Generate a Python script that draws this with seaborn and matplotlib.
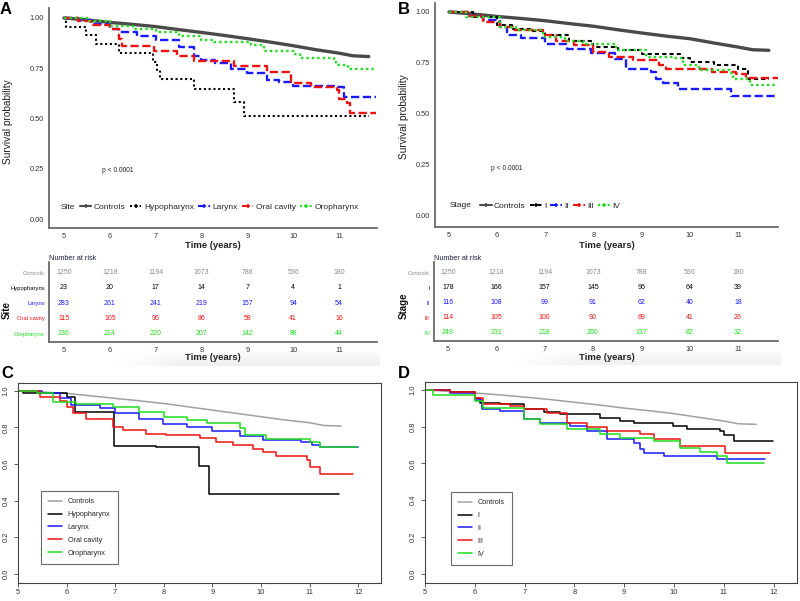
import numpy as np
import pandas as pd
import matplotlib
matplotlib.use('Agg')
import matplotlib.pyplot as plt
from matplotlib.lines import Line2D
import seaborn as sns

# ---------------- data ----------------
RISK_TIMES = [5, 6, 7, 8, 9, 10, 11]
SITE_GROUPS = ['Controls', 'Hypopharynx', 'Larynx', 'Oral cavity', 'Oropharynx']
STAGE_GROUPS = ['Controls', 'I', 'II', 'III', 'IV']

risk_controls = [1250, 1218, 1194, 1073, 788, 536, 180]
risk_hypopharynx = [23, 20, 17, 14, 7, 4, 1]
risk_larynx = [283, 261, 241, 219, 157, 94, 54]
risk_oral = [115, 105, 96, 86, 58, 41, 16]
risk_oropharynx = [236, 224, 220, 207, 142, 88, 44]
risk_stage1 = [178, 166, 157, 145, 96, 64, 39]
risk_stage2 = [116, 108, 99, 91, 62, 40, 18]
risk_stage3 = [114, 105, 100, 90, 69, 41, 26]
risk_stage4 = [249, 231, 218, 200, 137, 82, 32]

# panel A (site, ggsurvplot)
a_controls_t = [5, 5.5, 6, 6.5, 7, 7.5, 8, 8.5, 9, 9.5, 10, 10.5, 11, 11.3, 11.65]
a_controls_s = [1.0, 0.99, 0.978, 0.968, 0.957, 0.942, 0.928, 0.913, 0.897, 0.88, 0.862, 0.842, 0.825, 0.812, 0.808]
a_hypo_t = [5, 5.05, 5.47, 5.7, 6.19, 6.95, 7.02, 7.1, 7.83, 8.72, 8.92, 11.65]
a_hypo_s = [1.0, 0.957, 0.913, 0.87, 0.826, 0.783, 0.739, 0.696, 0.648, 0.584, 0.51, 0.51]
a_larynx_t = [5, 5.3, 5.6, 6.0, 6.19, 6.6, 7.0, 7.5, 7.83, 8.0, 8.3, 8.65, 9.0, 9.43, 9.7, 10.0, 10.5, 10.95, 11.1, 11.8]
a_larynx_s = [1.0, 0.99, 0.97, 0.945, 0.93, 0.91, 0.89, 0.855, 0.813, 0.79, 0.775, 0.747, 0.725, 0.692, 0.68, 0.664, 0.66, 0.656, 0.606, 0.606]
a_oral_t = [5, 5.3, 5.6, 6.0, 6.19, 6.26, 6.96, 7.47, 7.83, 8.7, 9.43, 9.95, 10.4, 10.95, 11.0, 11.17, 11.25, 11.8]
a_oral_s = [1.0, 0.985, 0.965, 0.945, 0.896, 0.862, 0.838, 0.813, 0.785, 0.763, 0.73, 0.675, 0.656, 0.64, 0.598, 0.576, 0.526, 0.526]
a_oro_t = [5, 5.5, 6.0, 6.5, 7.0, 7.5, 8.0, 8.27, 9.07, 9.36, 10.0, 10.15, 10.9, 10.93, 11.2, 11.8]
a_oro_s = [1.0, 0.985, 0.962, 0.945, 0.93, 0.912, 0.89, 0.88, 0.866, 0.838, 0.821, 0.8, 0.783, 0.767, 0.747, 0.747]

# panel B (stage, ggsurvplot)
b_controls_t = [5, 5.5, 6, 6.5, 7, 7.5, 8, 8.5, 9, 9.5, 10, 10.5, 11, 11.3, 11.64]
b_controls_s = [1.0, 0.99, 0.978, 0.968, 0.957, 0.943, 0.93, 0.913, 0.897, 0.882, 0.869, 0.848, 0.828, 0.815, 0.812]
b_st1_t = [5, 5.5, 6.0, 6.3, 6.7, 7.0, 7.5, 8.0, 8.5, 9.0, 9.8, 10.0, 10.5, 11.0, 11.2, 11.64]
b_st1_s = [1.0, 0.975, 0.935, 0.915, 0.905, 0.885, 0.86, 0.828, 0.812, 0.796, 0.776, 0.755, 0.738, 0.722, 0.673, 0.673]
b_st2_t = [5, 5.4, 5.7, 6.05, 6.2, 6.5, 7.0, 7.45, 7.95, 8.45, 8.68, 9.2, 9.3, 9.45, 9.75, 10.85, 11.8]
b_st2_s = [1.0, 0.98, 0.96, 0.927, 0.886, 0.87, 0.845, 0.82, 0.8, 0.77, 0.722, 0.705, 0.67, 0.65, 0.62, 0.59, 0.59]
b_st3_t = [5, 5.4, 5.7, 6.05, 6.33, 6.95, 7.23, 7.6, 8.0, 8.33, 8.82, 9.37, 9.5, 10.47, 10.95, 11.17, 11.83]
b_st3_s = [1.0, 0.98, 0.95, 0.926, 0.91, 0.886, 0.86, 0.84, 0.804, 0.78, 0.766, 0.74, 0.722, 0.706, 0.694, 0.676, 0.676]
b_st4_t = [5, 5.36, 6.05, 6.4, 6.95, 7.4, 7.78, 8.47, 9.1, 9.65, 9.86, 10.2, 10.83, 10.9, 11.25, 11.83]
b_st4_s = [1.0, 0.976, 0.926, 0.91, 0.878, 0.86, 0.845, 0.812, 0.78, 0.776, 0.74, 0.714, 0.7, 0.673, 0.64, 0.64]

# panel C (site, base R)
c_controls_t = [5, 5.5, 6, 6.5, 7, 7.5, 8, 8.5, 9, 9.5, 10, 10.5, 11, 11.3, 11.65]
c_controls_s = [1.0, 0.993, 0.985, 0.972, 0.958, 0.945, 0.93, 0.912, 0.894, 0.876, 0.858, 0.84, 0.825, 0.81, 0.807]
c_hypo_t = [5, 5.1, 6.0, 6.17, 6.97, 7.85, 8.73, 8.93, 11.6]
c_hypo_s = [1.0, 0.985, 0.967, 0.885, 0.697, 0.69, 0.59, 0.434, 0.434]
c_larynx_t = [5, 5.5, 5.86, 6.1, 6.68, 6.99, 7.5, 7.99, 8.47, 9.0, 9.57, 10.05, 10.83, 11.04, 11.21, 12.0]
c_larynx_s = [1.0, 0.985, 0.958, 0.92, 0.903, 0.876, 0.843, 0.82, 0.8, 0.779, 0.754, 0.73, 0.72, 0.703, 0.693, 0.693]
c_oral_t = [5, 5.45, 5.86, 6.0, 6.13, 6.4, 6.96, 7.16, 7.64, 8.05, 8.74, 9.08, 9.43, 9.84, 10.05, 10.3, 10.94, 11.0, 11.21, 11.9]
c_oral_s = [1.0, 0.967, 0.945, 0.912, 0.876, 0.843, 0.803, 0.785, 0.766, 0.757, 0.739, 0.72, 0.703, 0.684, 0.666, 0.642, 0.624, 0.584, 0.547, 0.547]
c_oro_t = [5, 5.4, 5.72, 6.2, 6.96, 7.5, 8.0, 8.47, 8.88, 9.57, 9.67, 10.11, 11.0, 11.21, 11.97]
c_oro_s = [1.0, 0.985, 0.94, 0.925, 0.909, 0.885, 0.858, 0.84, 0.825, 0.794, 0.757, 0.734, 0.72, 0.693, 0.693]

# panel D (stage, base R)
d_controls_t = [5, 5.5, 6, 6.5, 7, 7.5, 8, 8.5, 9, 9.5, 10, 10.5, 11, 11.3, 11.65]
d_controls_s = [1.0, 0.99, 0.982, 0.972, 0.96, 0.947, 0.932, 0.917, 0.9, 0.886, 0.87, 0.85, 0.83, 0.815, 0.812]
d_st1_t = [5, 5.5, 6.0, 6.1, 6.5, 6.98, 7.38, 7.71, 8.52, 8.92, 9.19, 9.99, 10.26, 10.93, 11.0, 11.2, 11.99]
d_st1_s = [1.0, 0.99, 0.955, 0.928, 0.92, 0.896, 0.878, 0.866, 0.848, 0.83, 0.821, 0.803, 0.789, 0.776, 0.753, 0.722, 0.722]
d_st2_t = [5, 5.5, 6.0, 6.14, 6.5, 6.98, 7.31, 7.91, 8.25, 8.65, 9.19, 9.32, 9.39, 9.79, 10.86, 11.83]
d_st2_s = [1.0, 0.982, 0.946, 0.896, 0.884, 0.842, 0.82, 0.803, 0.776, 0.731, 0.713, 0.677, 0.656, 0.638, 0.624, 0.624]
d_st3_t = [5, 5.5, 6.0, 6.17, 6.71, 6.98, 7.44, 7.85, 8.25, 8.65, 9.32, 9.59, 10.12, 11.03, 11.93]
d_st3_s = [1.0, 0.985, 0.955, 0.923, 0.914, 0.896, 0.875, 0.821, 0.8, 0.776, 0.758, 0.731, 0.695, 0.656, 0.656]
d_st4_t = [5, 5.17, 6.0, 6.17, 6.98, 7.31, 7.85, 8.52, 8.92, 9.59, 10.12, 10.53, 10.86, 11.06, 11.8]
d_st4_s = [1.0, 0.973, 0.937, 0.901, 0.839, 0.812, 0.785, 0.758, 0.74, 0.722, 0.686, 0.663, 0.638, 0.6, 0.6]

# ---------------- style ----------------
sns.set_style('white')
plt.rcParams['font.family'] = ['Liberation Sans', 'DejaVu Sans']

W, H = 800, 601
BLUE, RED, GREEN = '#1a1aff', '#ee1111', '#1edd1e'
GG_COLORS = ['#4a4a4a', 'black', BLUE, RED, GREEN]
GG_DASH = ['-', (0, (1, 1.3)), (0, (3.5, 1.5)), (0, (3.5, 1.5)), (0, (1, 1.3))]
GG_DASH_B = ['-', (0, (2, 1.5)), (0, (3.5, 1.5)), (0, (3.5, 1.5)), (0, (1, 1.3))]
GG_LW = [2.4, 1.5, 1.7, 1.7, 1.7]
TABLE_COLORS = ['#8c8c8c', 'black', BLUE, RED, GREEN]
BASE_COLORS = ['#a0a0a0', 'black', BLUE, RED, GREEN]


def box(l, t, r, b):
    return [l / W, 1 - b / H, (r - l) / W, (b - t) / H]


def draw_step(ax, t, s, color, lw, ls, smooth=False):
    # controls have thousands of tiny steps, so they read as a smooth line
    df = pd.DataFrame({'time': t, 'surv': s})
    sns.lineplot(data=df, x='time', y='surv', ax=ax, color=color, lw=lw,
                 linestyle=ls, drawstyle='default' if smooth else 'steps-post',
                 estimator=None, legend=False)


def gg_panel(ax, curves, groups, dashes, xlim, ylim, legend_title, title_x, legend_x):
    for i, (t, s) in enumerate(curves):
        draw_step(ax, t, s, GG_COLORS[i], GG_LW[i], dashes[i], smooth=(i == 0))
    ax.set_xlim(*xlim)
    ax.set_ylim(*ylim)
    ax.set_xticks(RISK_TIMES)
    ax.set_yticks([0, 0.25, 0.5, 0.75, 1.0])
    ax.set_yticklabels(['0.00', '0.25', '0.50', '0.75', '1.00'])
    ax.set_xlabel('')
    ax.set_ylabel('')
    for side in ['top', 'right']:
        ax.spines[side].set_visible(False)
    for side in ['left', 'bottom']:
        ax.spines[side].set_color('#6a6a6a')
        ax.spines[side].set_linewidth(1.3)
    ax.tick_params(labelsize=5.3, length=2, width=0.6, color='#6a6a6a',
                   labelcolor='#333333', pad=1.5)
    ax.text(0.21, 0.26, 'p < 0.0001', transform=ax.transAxes, fontsize=4.8,
            ha='center', va='center', color='#222222')
    handles = [Line2D([], [], color=GG_COLORS[i], lw=1.5, linestyle=dashes[i],
                      marker='+', markersize=3, markeredgewidth=1.1)
               for i in range(len(groups))]
    ax.text(title_x, 0.095, legend_title, transform=ax.transAxes, fontsize=6,
            va='center', ha='left', color='#222222')
    ax.legend(handles, groups, ncol=5, loc='center left',
              bbox_to_anchor=(legend_x, 0.095), frameon=False, fontsize=6,
              handlelength=1.4, handletextpad=0.3, columnspacing=0.5,
              borderpad=0, borderaxespad=0)


def risk_table(ax, rows, names, xlim):
    for i, row in enumerate(rows):
        for t, n in zip(RISK_TIMES, row):
            ax.text(t, i, str(n), ha='center', va='center', fontsize=5,
                    color=TABLE_COLORS[i])
    ax.set_xlim(*xlim)
    ax.set_ylim(4.55, -0.7)
    ax.set_xticks(RISK_TIMES)
    ax.set_yticks(range(len(names)))
    ax.set_yticklabels(names)
    for lab, c in zip(ax.get_yticklabels(), TABLE_COLORS):
        lab.set_color(c)
    ax.tick_params(axis='y', labelsize=4.2, length=2, width=0.6, pad=1, color='#6a6a6a')
    ax.tick_params(axis='x', labelsize=5.3, length=2, width=0.6, pad=1.5,
                   color='#6a6a6a', labelcolor='#333333')
    for side in ['top', 'right']:
        ax.spines[side].set_visible(False)
    for side in ['left', 'bottom']:
        ax.spines[side].set_color('#6a6a6a')
        ax.spines[side].set_linewidth(1.3)
    ax.text(0, 1.05, 'Number at risk', transform=ax.transAxes, fontsize=5.2,
            ha='left', va='center', color='#1c1c3a')


def base_panel(ax, curves, groups, legend_anchor):
    for i, (t, s) in enumerate(curves):
        draw_step(ax, t, s, BASE_COLORS[i], 1.1, '-', smooth=(i == 0))
    ax.set_xlim(5, 12.47)
    ax.set_ylim(-0.05, 1.042)
    ax.set_xticks([5, 6, 7, 8, 9, 10, 11, 12])
    ax.set_yticks([0, 0.2, 0.4, 0.6, 0.8, 1.0])
    ax.set_yticklabels(['0.0', '0.2', '0.4', '0.6', '0.8', '1.0'])
    ax.set_xlabel('')
    ax.set_ylabel('')
    for side in ax.spines:
        ax.spines[side].set_color('#444444')
        ax.spines[side].set_linewidth(0.8)
    ax.tick_params(axis='both', labelsize=5.4, length=3, width=0.6,
                   color='#444444', labelcolor='#333333', direction='out')
    ax.tick_params(axis='x', pad=1.5, bottom=True)
    ax.tick_params(axis='y', labelrotation=90, pad=3, left=True)
    for lab in ax.get_yticklabels():
        lab.set_va('center')
    handles = [Line2D([], [], color=BASE_COLORS[i], lw=1.1) for i in range(len(groups))]
    leg = ax.legend(handles, groups, loc='upper left', bbox_to_anchor=legend_anchor,
                    fontsize=5.2, frameon=True, fancybox=False, handlelength=1.9,
                    handletextpad=0.8, labelspacing=0.8, borderpad=1.0,
                    borderaxespad=0)
    leg.get_frame().set_edgecolor('#444444')
    leg.get_frame().set_linewidth(0.8)


fig = plt.figure(figsize=(8, 6.01), dpi=100)
fig.patch.set_facecolor('white')

# soft shadows under the risk tables
for l, t, r, b in [(115, 351, 380, 366), (515, 351, 781, 365)]:
    sh = fig.add_axes(box(l, t, r, b), zorder=0)
    hx = np.clip(np.linspace(0, 4, 200), 0, 1)
    vy = np.linspace(0.2, 1, 20)[:, None]
    sh.imshow(vy * hx[None, :] * 0.13, cmap='Greys', vmin=0, vmax=1,
              aspect='auto', interpolation='bilinear')
    sh.axis('off')

# ---- A ----
ax_a = fig.add_axes(box(49, 8, 377, 228))
curves_a = [(a_controls_t, a_controls_s), (a_hypo_t, a_hypo_s), (a_larynx_t, a_larynx_s),
            (a_oral_t, a_oral_s), (a_oro_t, a_oro_s)]
gg_panel(ax_a, curves_a, SITE_GROUPS, GG_DASH, (4.673, 11.83), (-0.0446, 1.0495),
         'Site', 0.037, 0.094)
ax_ta = fig.add_axes(box(49, 262, 377, 342))
risk_table(ax_ta, [risk_controls, risk_hypopharynx, risk_larynx, risk_oral, risk_oropharynx],
           SITE_GROUPS, (4.673, 11.83))

# ---- B ----
ax_b = fig.add_axes(box(435, 3, 778, 227))
curves_b = [(b_controls_t, b_controls_s), (b_st1_t, b_st1_s), (b_st2_t, b_st2_s),
            (b_st3_t, b_st3_s), (b_st4_t, b_st4_s)]
gg_panel(ax_b, curves_b, STAGE_GROUPS, GG_DASH_B, (4.71, 11.83), (-0.054, 1.044),
         'Stage', 0.044, 0.131)
ax_tb = fig.add_axes(box(434, 262, 778, 341))
risk_table(ax_tb, [risk_controls, risk_stage1, risk_stage2, risk_stage3, risk_stage4],
           STAGE_GROUPS, (4.71, 11.83))

# axis titles for A/B (ggsurvplot style)
for x in (213, 607):
    fig.text(x / W, 1 - 245 / H, 'Time (years)', ha='center', va='center',
             fontsize=6.8, fontweight='bold', color='#222222')
    fig.text(x / W, 1 - 358 / H, 'Time (years)', ha='center', va='center',
             fontsize=6.8, fontweight='bold', color='#222222')
fig.text(8 / W, 1 - 122 / H, 'Survival probability', rotation=90, ha='center',
         va='center', fontsize=7.3, color='#222222')
fig.text(404 / W, 1 - 117 / H, 'Survival probability', rotation=90, ha='center',
         va='center', fontsize=7.3, color='#222222')
fig.text(7 / W, 1 - 310 / H, 'Site', rotation=90, ha='center', va='center',
         fontsize=7, fontweight='bold', color='#111111')
fig.text(404 / W, 1 - 306 / H, 'Stage', rotation=90, ha='center', va='center',
         fontsize=7, fontweight='bold', color='#111111')

# ---- C ----
ax_c = fig.add_axes(box(18, 383, 381, 583))
curves_c = [(c_controls_t, c_controls_s), (c_hypo_t, c_hypo_s), (c_larynx_t, c_larynx_s),
            (c_oral_t, c_oral_s), (c_oro_t, c_oro_s)]
base_panel(ax_c, curves_c, SITE_GROUPS, (0.0634, 0.46))

# ---- D ----
ax_d = fig.add_axes(box(425, 382, 797, 583))
curves_d = [(d_controls_t, d_controls_s), (d_st1_t, d_st1_s), (d_st2_t, d_st2_s),
            (d_st3_t, d_st3_s), (d_st4_t, d_st4_s)]
base_panel(ax_d, curves_d, STAGE_GROUPS, (0.07, 0.4527))

# panel letters
for letter, x, y in [('A', 0, 10), ('B', 398, 10), ('C', 1, 373), ('D', 398, 373)]:
    fig.text(x / W, 1 - y / H, letter, ha='left', va='center', fontsize=12,
             fontweight='bold', color='black')

fig.savefig('out.png', dpi=100)
